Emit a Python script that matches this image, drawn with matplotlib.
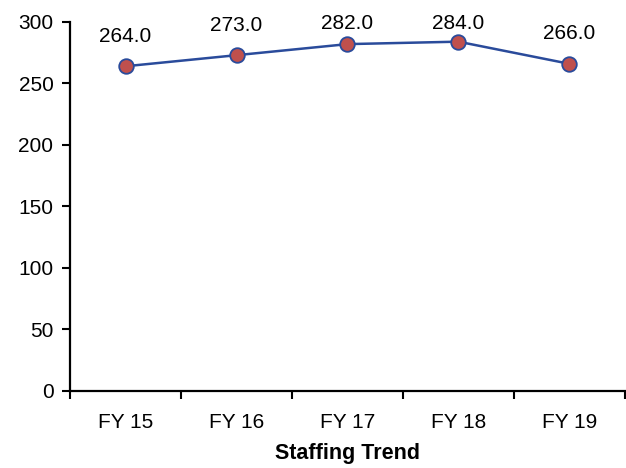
import matplotlib
matplotlib.use("Agg")
import matplotlib.pyplot as plt
from matplotlib import font_manager

years = ["FY 15", "FY 16", "FY 17", "FY 18", "FY 19"]
staff = [264.0, 273.0, 282.0, 284.0, 266.0]
y_ticks = [0, 50, 100, 150, 200, 250, 300]

names = {f.name for f in font_manager.fontManager.ttflist}
family = "Liberation Sans Narrow" if "Liberation Sans Narrow" in names else "Liberation Sans"
plt.rcParams["font.family"] = [family, "DejaVu Sans"]

fig = plt.figure(figsize=(6.26, 4.68), dpi=100)
ax = fig.add_axes([0.112, 0.165, 0.886, 0.788])

xs = list(range(len(years)))
ax.plot(xs, staff, color="#2a4b9b", linewidth=1.8, marker="o", markersize=10.5,
        markerfacecolor="#c0504d", markeredgecolor="#2a4b9b", markeredgewidth=1.3,
        zorder=3)

# value labels sit above each point but are kept inside the plot top
for x, v in zip(xs, staff):
    ax.text(x, min(v + 24.5, 299.0), f"{v:.1f}", ha="center", va="center",
            fontsize=15, zorder=4)

ax.set_xlim(-0.5, len(years) - 0.5)
ax.set_ylim(0, 300)
ax.set_yticks(y_ticks)
ax.tick_params(axis="y", labelsize=15, length=6, width=1.5, pad=6)

# category boundaries carry the tick marks, names sit between them
ax.set_xticks([i - 0.5 for i in range(len(years) + 1)])
ax.set_xticklabels([])
ax.set_xticks(xs, minor=True)
ax.set_xticklabels(years, minor=True)
ax.tick_params(axis="x", which="major", length=6, width=1.5)
ax.tick_params(axis="x", which="minor", length=0, labelsize=15, pad=16)

ax.set_xlabel("Staffing Trend", fontsize=15.5, fontweight="bold", labelpad=8)

for side in ("top", "right"):
    ax.spines[side].set_visible(False)
for side in ("left", "bottom"):
    ax.spines[side].set_linewidth(1.6)

fig.savefig("out.png", dpi=100)
